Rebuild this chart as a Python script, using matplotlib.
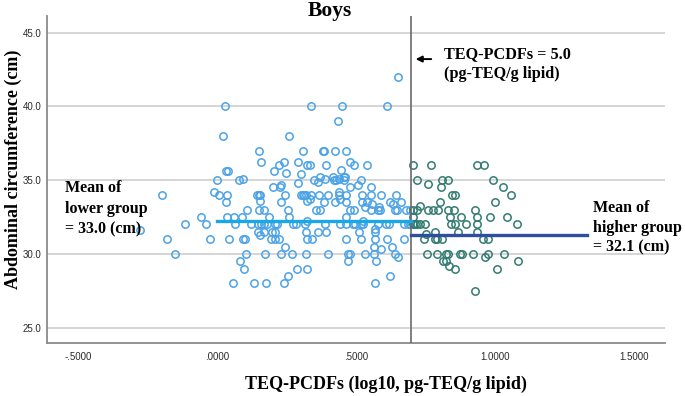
import numpy as np
import matplotlib
matplotlib.use('Agg')
import matplotlib.pyplot as plt

# lower group (TEQ-PCDFs < 5.0) : x = log10 TEQ-PCDFs, y = abdominal circumference
low_x = [0.649,
         0.027, 0.336, 0.450, 0.612,
         0.434,
         0.022, 0.258,
         0.151, 0.308, 0.380, 0.384, 0.425, 0.465,
         0.159, 0.241, 0.292, 0.476,
         0.223, 0.322, 0.332, 0.390, 0.492, 0.538,
         0.031, 0.039, 0.203, 0.248, 0.447,
         0.302,
         0.000, 0.077, 0.093, 0.347, 0.420, 0.426, 0.457, 0.505,
         0.371, 0.387, 0.418, 0.437, 0.456, 0.460, 0.516,
         0.291, 0.231, 0.363,
         0.201, 0.225, 0.476, 0.553,
         -0.013, 0.437,
         -0.200, 0.006, 0.036, 0.142, 0.149, 0.154, 0.242, 0.300, 0.307, 0.313,
         0.320, 0.336, 0.366, 0.398, 0.437, 0.465, 0.520, 0.553, 0.590, 0.645,
         0.030, 0.152, 0.230, 0.324, 0.335, 0.384, 0.423, 0.464, 0.520, 0.539,
         0.558, 0.623, 0.660,
         0.443, 0.530, 0.583, 0.634,
         0.107, 0.149, 0.168, 0.255, 0.354, 0.370, 0.476, 0.492, 0.552, 0.579,
         0.586, 0.638, 0.646, 0.681, 0.692,
         -0.058, 0.036, 0.060, 0.088, 0.186, 0.258, 0.464,
         0.324, 0.524,
         -0.115, -0.041, 0.064, 0.121, 0.146, 0.157, 0.168, 0.179, 0.208, 0.214,
         0.272, 0.283, 0.314, 0.387, 0.440, 0.465, 0.489, 0.495, 0.517, 0.524,
         0.580, 0.607, 0.618, 0.673, 0.686, 0.693,
         -0.278,
         0.146, 0.168, 0.197, 0.206, 0.318, 0.362, 0.390, 0.511, 0.568,
         0.152, 0.566,
         -0.181, -0.025, 0.041, 0.093, 0.101, 0.195, 0.209, 0.222, 0.322, 0.341,
         0.465, 0.517, 0.568, 0.612, 0.671,
         0.244, 0.564, 0.630,
         0.591,
         -0.153, 0.104, 0.170, 0.230, 0.269, 0.321, 0.400, 0.472, 0.478, 0.533,
         0.563, 0.640,
         0.649,
         0.082, 0.472, 0.572,
         0.097, 0.288, 0.322,
         0.253, 0.623,
         0.055, 0.132, 0.176, 0.239, 0.568]
low_y = [42.0,
         40.0, 40.0, 40.0, 40.0,
         39.0,
         38.0, 38.0,
         37.0, 37.0, 37.0, 37.0, 37.0, 37.0,
         36.2, 36.2, 36.2, 36.2,
         36.0, 36.0, 36.0, 36.0, 36.0, 36.0,
         35.6, 35.6, 35.6, 35.5, 35.7,
         35.4,
         35.0, 35.0, 35.1, 35.0, 35.0, 35.0, 35.0, 34.7,
         35.2, 35.1, 35.2, 35.1, 35.2, 35.2, 35.0,
         34.8, 34.7, 34.9,
         34.5, 34.5, 34.5, 34.5,
         34.2, 34.2,
         34.0, 34.0, 34.0, 34.0, 34.0, 34.0, 34.0, 34.0, 34.0, 34.0,
         34.0, 34.0, 34.0, 34.0, 34.0, 34.0, 34.0, 34.0, 34.0, 34.0,
         33.5, 33.6, 33.5, 33.6, 33.7, 33.5, 33.5, 33.5, 33.5, 33.5,
         33.4, 33.5, 33.5,
         33.7, 33.2, 33.2, 33.4,
         33.0, 33.0, 33.0, 33.0, 33.0, 33.0, 33.0, 33.0, 33.0, 33.0,
         33.0, 33.0, 33.0, 33.0, 33.0,
         32.5, 32.5, 32.5, 32.5, 32.5, 32.5, 32.5,
         32.2, 32.2,
         32.0, 32.0, 32.0, 32.0, 32.0, 32.0, 32.0, 32.0, 32.0, 32.0,
         32.0, 32.0, 32.0, 32.0, 32.0, 32.0, 32.0, 32.0, 32.0, 32.0,
         32.0, 32.0, 32.0, 32.0, 32.0, 32.0,
         31.6,
         31.5, 31.5, 31.5, 31.5, 31.5, 31.5, 31.5, 31.5, 31.5,
         31.3, 31.7,
         31.0, 31.0, 31.0, 31.0, 31.0, 31.0, 31.0, 31.0, 31.0, 31.0,
         31.0, 31.0, 31.0, 31.0, 31.0,
         30.5, 30.5, 30.5,
         30.3,
         30.0, 30.0, 30.0, 30.0, 30.0, 30.0, 30.0, 30.0, 30.0, 30.0,
         30.0, 30.0,
         29.8,
         29.5, 29.5, 29.5,
         29.0, 29.0, 29.0,
         28.5, 28.5,
         28.0, 28.0, 28.0, 28.0, 28.0]

# higher group (TEQ-PCDFs >= 5.0)
high_x = [0.703, 0.770, 0.936, 0.960,
          0.718, 0.808, 0.832, 0.994,
          0.760,
          0.804, 1.030,
          0.844, 0.856, 1.058,
          0.802, 1.000,
          0.728,
          0.703, 0.718, 0.760, 0.778, 0.794, 0.830, 0.853, 0.928,
          0.703, 0.836, 0.878, 0.936, 0.982, 1.042,
          0.703, 0.712, 0.720, 0.730, 0.748, 0.840, 0.856, 0.896, 0.934, 1.080,
          0.752, 0.784, 0.866, 0.934,
          0.744, 0.784, 0.790, 0.808, 0.956, 0.974,
          0.754, 0.791, 0.822, 0.832, 0.874, 0.882, 0.920, 0.974, 1.033,
          0.964,
          0.814, 0.824, 1.084,
          0.835,
          0.856, 1.006,
          0.929]
high_y = [36.0, 36.0, 36.0, 36.0,
          35.0, 35.0, 35.0, 35.0,
          34.75,
          34.5, 34.5,
          34.0, 34.0, 34.0,
          33.5, 33.5,
          33.25,
          33.0, 33.0, 33.0, 33.0, 33.0, 33.0, 33.0, 33.0,
          32.5, 32.5, 32.5, 32.5, 32.5, 32.5,
          32.0, 32.0, 32.0, 32.0, 32.0, 32.0, 32.0, 32.0, 32.0, 32.0,
          31.35, 31.5, 31.5, 31.5,
          31.0, 31.0, 31.0, 31.0, 31.0, 31.0,
          30.0, 30.0, 30.0, 30.0, 30.0, 30.0, 30.0, 30.0, 30.0,
          29.8,
          29.5, 29.5, 29.5,
          29.2,
          29.0, 29.0,
          27.5]

cutoff = np.log10(5.0)
low_mean_line = 32.2    # drawn level of the lower-group mean line
high_mean_line = 31.3   # drawn level of the higher-group mean line

serif = ['Liberation Serif', 'DejaVu Serif']
sans = ['Liberation Sans', 'DejaVu Sans']

fig = plt.figure(figsize=(6.85, 3.96), dpi=100)
ax = fig.add_axes([0.069, 0.133, 0.902, 0.827])

ax.set_xlim(-0.612, 1.612)
ax.set_ylim(23.94, 46.13)

for yv in [25, 30, 35, 40, 45]:
    ax.axhline(yv, color='#d2d2d2', lw=1.3, zorder=0)

ax.plot(low_x, low_y, 'o', mfc='none', mec='#4ba3e6', mew=1.1, ms=5.3, zorder=2)
ax.plot(high_x, high_y, 'o', mfc='none', mec='#327c72', mew=1.1, ms=5.3, zorder=2)

ax.axvline(cutoff, color='#6a6a6a', lw=1.2, zorder=3)
ax.plot([0.0, cutoff], [low_mean_line, low_mean_line], color='#1aa7e8', lw=2.4, zorder=4)
ax.plot([cutoff, 1.332], [high_mean_line, high_mean_line], color='#2f4f9c', lw=2.4, zorder=4)

ax.set_xticks([-0.5, 0.0, 0.5, 1.0, 1.5])
ax.set_xticklabels(['-.5000', '.0000', '.5000', '1.0000', '1.5000'])
ax.set_yticks([25, 30, 35, 40, 45])
ax.set_yticklabels(['25.0', '30.0', '35.0', '40.0', '45.0'])
ax.tick_params(length=0, labelsize=7, colors='#2a2a2a')
ax.tick_params(axis='x', pad=6)
ax.tick_params(axis='y', pad=4)
for lab in ax.get_xticklabels() + ax.get_yticklabels():
    lab.set_family(sans)

for s in ['top', 'right']:
    ax.spines[s].set_visible(False)
for s in ['left', 'bottom']:
    ax.spines[s].set_color('#8a8a8a')
    ax.spines[s].set_linewidth(1.3)

fig.text(330 / 685, 1 - 11 / 396, 'Boys', family=serif, fontweight='bold',
         fontsize=15.5, ha='center', va='center')
fig.text(13 / 685, 1 - 169 / 396, 'Abdominal circumference (cm)', family=serif,
         fontweight='bold', fontsize=13, rotation=90, ha='center', va='center')
fig.text(386 / 685, 1 - 384 / 396, 'TEQ-PCDFs (log10, pg-TEQ/g lipid)', family=serif,
         fontweight='bold', fontsize=13, ha='center', va='center')

fig.text(444 / 685, 1 - 64 / 396, 'TEQ-PCDFs = 5.0\n(pg-TEQ/g lipid)', family=serif,
         fontweight='bold', fontsize=11.7, ha='left', va='center', linespacing=1.32)
ax.annotate('', xy=(cutoff + 0.005, 43.2), xytext=(0.78, 43.2),
            arrowprops=dict(arrowstyle='-|>', color='black', lw=1.4, mutation_scale=9))

fig.text(65 / 685, 1 - 209 / 396, 'Mean of\nlower group\n= 33.0 (cm)', family=serif,
         fontweight='bold', fontsize=11.5, ha='left', va='center', linespacing=1.38,
         zorder=5)
fig.text(593 / 685, 1 - 228 / 396, 'Mean of\nhigher group\n= 32.1 (cm)', family=serif,
         fontweight='bold', fontsize=11.5, ha='left', va='center', linespacing=1.32)

fig.savefig('out.png', dpi=100)
